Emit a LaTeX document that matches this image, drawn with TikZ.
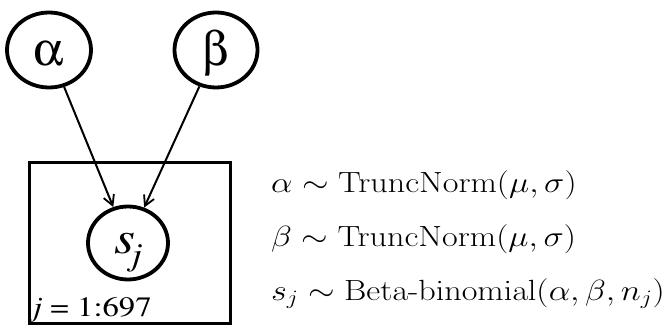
\documentclass[tikz,border=0pt]{standalone}
\usepackage{fix-cm}
\usepackage{graphicx}
\newcommand\tmsfont{\fontencoding{OT1}\fontfamily{ptm}\selectfont}
\newcommand\grkfont{\usefont{U}{psy}{m}{n}}
\newcommand\hstretch[1]{\scalebox{1.17}[1]{#1}}
\usetikzlibrary{shapes.geometric,arrows.meta}
\begin{document}
\begin{tikzpicture}[x=1pt,y=-1pt,
  rv/.style={ellipse,draw,line width=3.8pt,inner sep=0pt,text height=32pt,text depth=0pt},
  edge/.style={line width=2pt,-{Straight Barb[length=10pt,width=11pt,line width=1.8pt]}},
  eq/.style={anchor=base west,inner sep=0pt,font=\fontsize{29.2}{29.2}\selectfont}]
\useasboundingbox (0,0) rectangle (665,329);
\node[rv,minimum width=84pt,minimum height=75pt,font=\grkfont\fontsize{48}{48}\selectfont] (alpha) at (49,50) {a};
\node[rv,minimum width=83pt,minimum height=75pt,font=\grkfont\fontsize{48}{48}\selectfont] (beta) at (216,50) {b};
\node[rv,minimum width=80pt,minimum height=73pt,text height=20pt,font=\tmsfont\fontsize{46}{46}\selectfont] (sj) at (128,243) {\hstretch{\itshape s\kern-3pt\raisebox{-12pt}{\fontsize{32}{32}\selectfont j}}};
\node[draw,line width=3.5pt,minimum width=201pt,minimum height=161pt,inner sep=0pt] (plate) at (130,243) {};
\node[anchor=base west,inner sep=0pt,font=\tmsfont\fontsize{28}{28}\selectfont] (lbl) at (33,316) {\hstretch{\textit{j} = 1:697}};
\draw[edge] (alpha) -- (sj);
\draw[edge] (beta) -- (sj);
\node[eq] (e1) at (271,193) {\hstretch{$\alpha \sim \mathrm{TruncNorm}(\mu,\sigma)$}};
\node[eq] (e2) at (271,246) {\hstretch{$\beta \sim \mathrm{TruncNorm}(\mu,\sigma)$}};
\node[eq] (e3) at (271,300) {\hstretch{$s_j \sim \mathrm{Beta\mbox{-}binomial}(\alpha,\beta,n_j)$}};
\end{tikzpicture}
\end{document}
